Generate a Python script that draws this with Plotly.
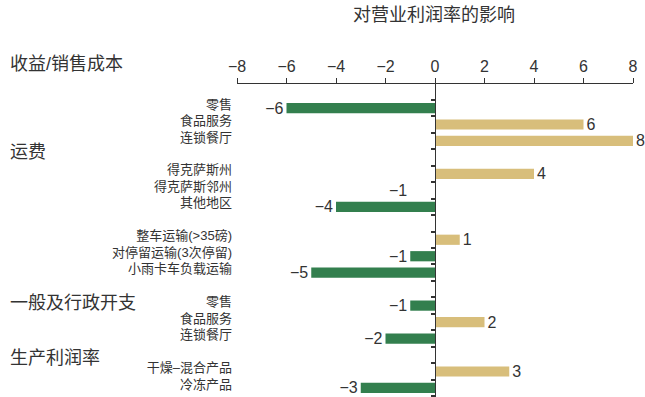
import plotly.graph_objects as go

# ---- data ----
categories = ["零售", "食品服务", "连锁餐厅",
              "得克萨斯州", "得克萨斯邻州", "其他地区",
              "整车运输(>35磅)", "对停留运输(3次停留)", "小雨卡车负载运输",
              "零售", "食品服务", "连锁餐厅",
              "干燥–混合产品", "冷冻产品"]
values = [-6, 6, 8, 4, -1, -4, 1, -1, -5, -1, 2, -2, 3, -3]
blocks = [0, 0, 0, 1, 1, 1, 2, 2, 2, 3, 3, 3, 4, 4]
hidden = [False, False, False, False, True, False, False, False, False,
          False, False, False, False, False]
group_labels = ["收益/销售成本", "运费", "一般及行政开支", "生产利润率"]
x_ticks = [-8, -6, -4, -2, 0, 2, 4, 6, 8]
title_text = "对营业利润率的影响"

GREEN = "#337F4E"
TAN = "#D8BE7B"
TXT = "#333333"

rows = [i + b for i, b in enumerate(blocks)]
colors = ["rgba(0,0,0,0)" if h else (GREEN if v < 0 else TAN)
          for v, h in zip(values, hidden)]
texts = [("−" + str(-v)) if v < 0 else str(v) for v in values]

font_family = "Liberation Sans, Noto Sans CJK SC, sans-serif"

fig = go.Figure()
fig.add_trace(go.Bar(
    x=values, y=rows, orientation="h",
    marker=dict(color=colors, line=dict(width=0)),
    text=texts, textposition="outside", cliponaxis=False,
    constraintext="none",
    textfont=dict(size=16, color=TXT, family=font_family),
    width=0.62, hoverinfo="skip",
))
n_rows = rows[-1] + 1
fig.add_trace(go.Scatter(x=[None], y=[None], yaxis="y2", showlegend=False))

L, R, T = 237, 12, 84
W, H = 645, 397
plot_w = W - L - R
plot_h = H - T
zero_pos = 0.5  # symmetric range
y_range = [17.55, -1.46]

fig.update_layout(
    width=W, height=H,
    margin=dict(l=L, r=R, t=T, b=0, pad=0),
    paper_bgcolor="white", plot_bgcolor="white",
    showlegend=False,
    font=dict(family=font_family, color=TXT),
    title=dict(text=title_text, x=434 / W, xref="container", xanchor="center",
               y=1 - 15 / H, yref="container", yanchor="middle",
               font=dict(size=18, color=TXT)),
    xaxis=dict(range=[-8, 8], side="top", tickvals=x_ticks,
               ticktext=[("−" + str(-t)) if t < 0 else str(t) for t in x_ticks],
               ticks="outside", ticklen=5, tickcolor=TXT, tickwidth=1,
               showline=True, linecolor=TXT, linewidth=1,
               showgrid=False, zeroline=False,
               tickfont=dict(size=16, color=TXT), fixedrange=True),
    yaxis=dict(range=y_range, tickvals=rows, ticktext=categories,
               ticks="", showline=False, showgrid=False, zeroline=False,
               tickfont=dict(size=13, color=TXT), ticklabelstandoff=4,
               ticklabelshift=4),
    yaxis2=dict(range=y_range, overlaying="y", anchor="free",
                position=zero_pos, side="left",
                tickvals=[r - 0.5 for r in range(n_rows + 1)],
                ticks="outside", ticklen=4, tickcolor=TXT, tickwidth=1.5,
                showticklabels=False, showline=True, linecolor=TXT,
                linewidth=1, showgrid=False, zeroline=False),
)

# group labels (pixel y centres)
group_py = [64, 152, 303, 358]
for g, py in zip(group_labels, group_py):
    fig.add_annotation(text=g, xref="paper", x=(8 - L) / plot_w, xanchor="left",
                       yref="paper", y=(H - py) / plot_h, yanchor="middle",
                       showarrow=False, font=dict(size=18, color=TXT))

fig.write_html("out.html")
